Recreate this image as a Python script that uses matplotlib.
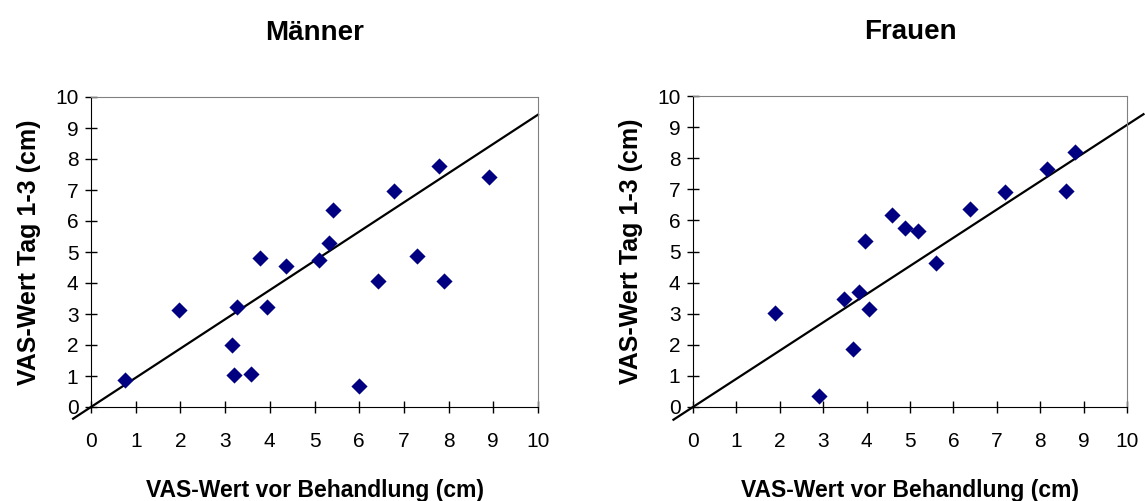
import numpy as np
import matplotlib
matplotlib.use('agg')
import matplotlib.pyplot as plt

plt.rcParams['font.family'] = ['Liberation Sans', 'DejaVu Sans']

# Männer: VAS vor Behandlung (x) / VAS Tag 1-3 (y)
men_x = [0.75, 1.97, 3.16, 3.20, 3.26, 3.57, 3.79, 3.93, 4.36, 5.11,
         5.33, 5.42, 5.99, 6.43, 6.78, 7.30, 7.79, 7.89, 8.90]
men_y = [0.88, 3.13, 2.00, 1.02, 3.21, 1.07, 4.82, 3.21, 4.55, 4.74,
         5.28, 6.35, 0.69, 4.08, 6.96, 4.88, 7.77, 4.08, 7.42]

# Frauen
women_x = [1.90, 2.90, 3.47, 3.69, 3.83, 3.96, 4.05, 4.58, 4.89, 5.19,
           5.59, 6.38, 7.18, 8.15, 8.59, 8.81]
women_y = [3.02, 0.34, 3.48, 1.88, 3.69, 5.35, 3.15, 6.16, 5.76, 5.67,
           4.63, 6.36, 6.90, 7.64, 6.96, 8.19]

# trend lines through the origin (slope, x range)
men_slope = 0.943
men_range = [-0.40, 10.0]
women_slope = 0.907
women_range = [-0.45, 10.38]

ticks = list(range(0, 11))

fig = plt.figure(figsize=(11.45, 5.01), dpi=100)
W, H = 1145, 501

def panel(rect, xs, ys, slope, xr, title):
    ax = fig.add_axes(rect)
    ax.scatter(xs, ys, marker='D', s=68, color='#000080', zorder=3,
               linewidths=0)
    lx = np.array(xr)
    ax.plot(lx, slope * lx, color='black', lw=1.6, clip_on=False, zorder=2)
    ax.set_xlim(0, 10)
    ax.set_ylim(0, 10)
    ax.set_xticks(ticks)
    ax.set_yticks(ticks)
    ax.tick_params(direction='inout', length=8, width=1, labelsize=15,
                   color='black')
    ax.tick_params(axis='x', pad=14)
    ax.tick_params(axis='y', pad=5)
    for s in ['top', 'right']:
        ax.spines[s].set_color('#808080')
    for s in ['left', 'bottom']:
        ax.spines[s].set_color('black')
    ax.set_title(title, fontsize=20, fontweight='bold', pad=41)
    ax.set_xlabel('VAS-Wert vor Behandlung (cm)', fontsize=16.5,
                  fontweight='bold', labelpad=20)
    ax.set_ylabel('VAS-Wert Tag 1-3 (cm)', fontsize=18, fontweight='bold',
                  labelpad=10)
    return ax

panel([91 / W, 94 / H, 447 / W, 310 / H], men_x, men_y,
      men_slope, men_range, 'Männer')
panel([693 / W, 94 / H, 434 / W, 311 / H], women_x, women_y,
      women_slope, women_range, 'Frauen')

fig.savefig('out.png', dpi=100)
